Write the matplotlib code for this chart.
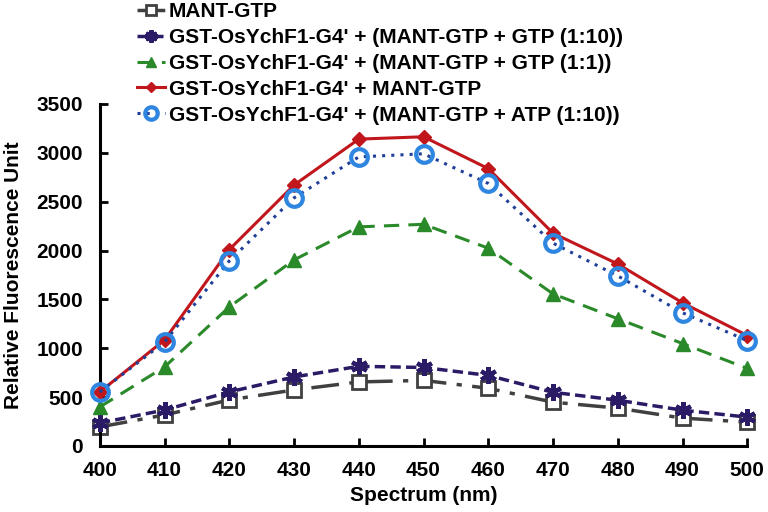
import matplotlib.pyplot as plt

plt.rcParams["font.family"] = ["Liberation Sans", "DejaVu Sans"]
plt.rcParams["font.weight"] = "bold"

wavelength = [400, 410, 420, 430, 440, 450, 460, 470, 480, 490, 500]

mant_gtp = [195, 317, 471, 573, 655, 671, 590, 448, 387, 285, 244]
gtp_1_10 = [235, 368, 553, 706, 815, 803, 722, 549, 468, 366, 295]
gtp_1_1 = [399, 809, 1423, 1904, 2242, 2268, 2024, 1556, 1302, 1048, 793]
mant_only = [553, 1085, 2010, 2670, 3140, 3164, 2838, 2177, 1862, 1465, 1130]
atp_1_10 = [553, 1064, 1894, 2539, 2958, 2990, 2686, 2075, 1740, 1363, 1078]

labels = [
    "MANT-GTP",
    "GST-OsYchF1-G4' + (MANT-GTP + GTP (1:10))",
    "GST-OsYchF1-G4' + (MANT-GTP + GTP (1:1))",
    "GST-OsYchF1-G4' + MANT-GTP",
    "GST-OsYchF1-G4' + (MANT-GTP + ATP (1:10))",
]

fig = plt.figure(figsize=(7.68, 5.12), dpi=100)
ax = fig.add_axes([0.130, 0.129, 0.843, 0.668])

h1, = ax.plot(wavelength, mant_gtp, color="#404040", lw=2.5,
              dashes=(8, 3, 1.5, 3), marker="s", ms=10, mfc="white",
              mec="#404040", mew=2, zorder=2)
h2, = ax.plot(wavelength, gtp_1_10, color="#2B1A66", lw=2.5,
              dashes=(3, 1.5), marker=(6, 2, 0), ms=12, mec="#2B1A66",
              mew=3, zorder=3)
h3, = ax.plot(wavelength, gtp_1_1, color="#2A8A2A", lw=2.2,
              dashes=(5, 3), marker="^", ms=10, mfc="#2A8A2A",
              mec="#2A8A2A", zorder=3)
h4, = ax.plot(wavelength, mant_only, color="#C0161C", lw=2.2,
              marker="D", ms=7, mfc="#C0161C", mec="#C0161C", zorder=4)
h5, = ax.plot(wavelength, atp_1_10, color="#1F3F99", lw=2.2,
              dashes=(1, 2), marker="o", ms=12, mfc="none",
              mec="#2F86E0", mew=3, zorder=5)

ax.set_xlim(400, 500)
ax.set_ylim(0, 3500)
ax.set_xticks(wavelength)
ax.set_yticks(range(0, 3501, 500))
ax.tick_params(direction="in", length=6, width=2, labelsize=15)
ax.tick_params(axis="x", pad=11)
ax.tick_params(axis="y", pad=12)
for s in ["top", "right"]:
    ax.spines[s].set_visible(False)
for s in ["left", "bottom"]:
    ax.spines[s].set_linewidth(2.2)
for ln in ax.lines:
    ln.set_clip_on(False)

ax.set_xlabel("Spectrum (nm)", fontsize=15, fontweight="bold", labelpad=4)
ax.set_ylabel("Relative Fluorescence Unit", fontsize=15, fontweight="bold",
              labelpad=10)

fig.legend([h1, h2, h3, h4, h5], labels, loc="upper left",
           bbox_to_anchor=(0.176, 1.0), frameon=False,
           handlelength=1.35, handletextpad=0.15, labelspacing=0.33,
           borderaxespad=0, borderpad=0.1, markerscale=0.75,
           prop={"weight": "bold", "size": 15})

fig.savefig("out.png", dpi=100)
